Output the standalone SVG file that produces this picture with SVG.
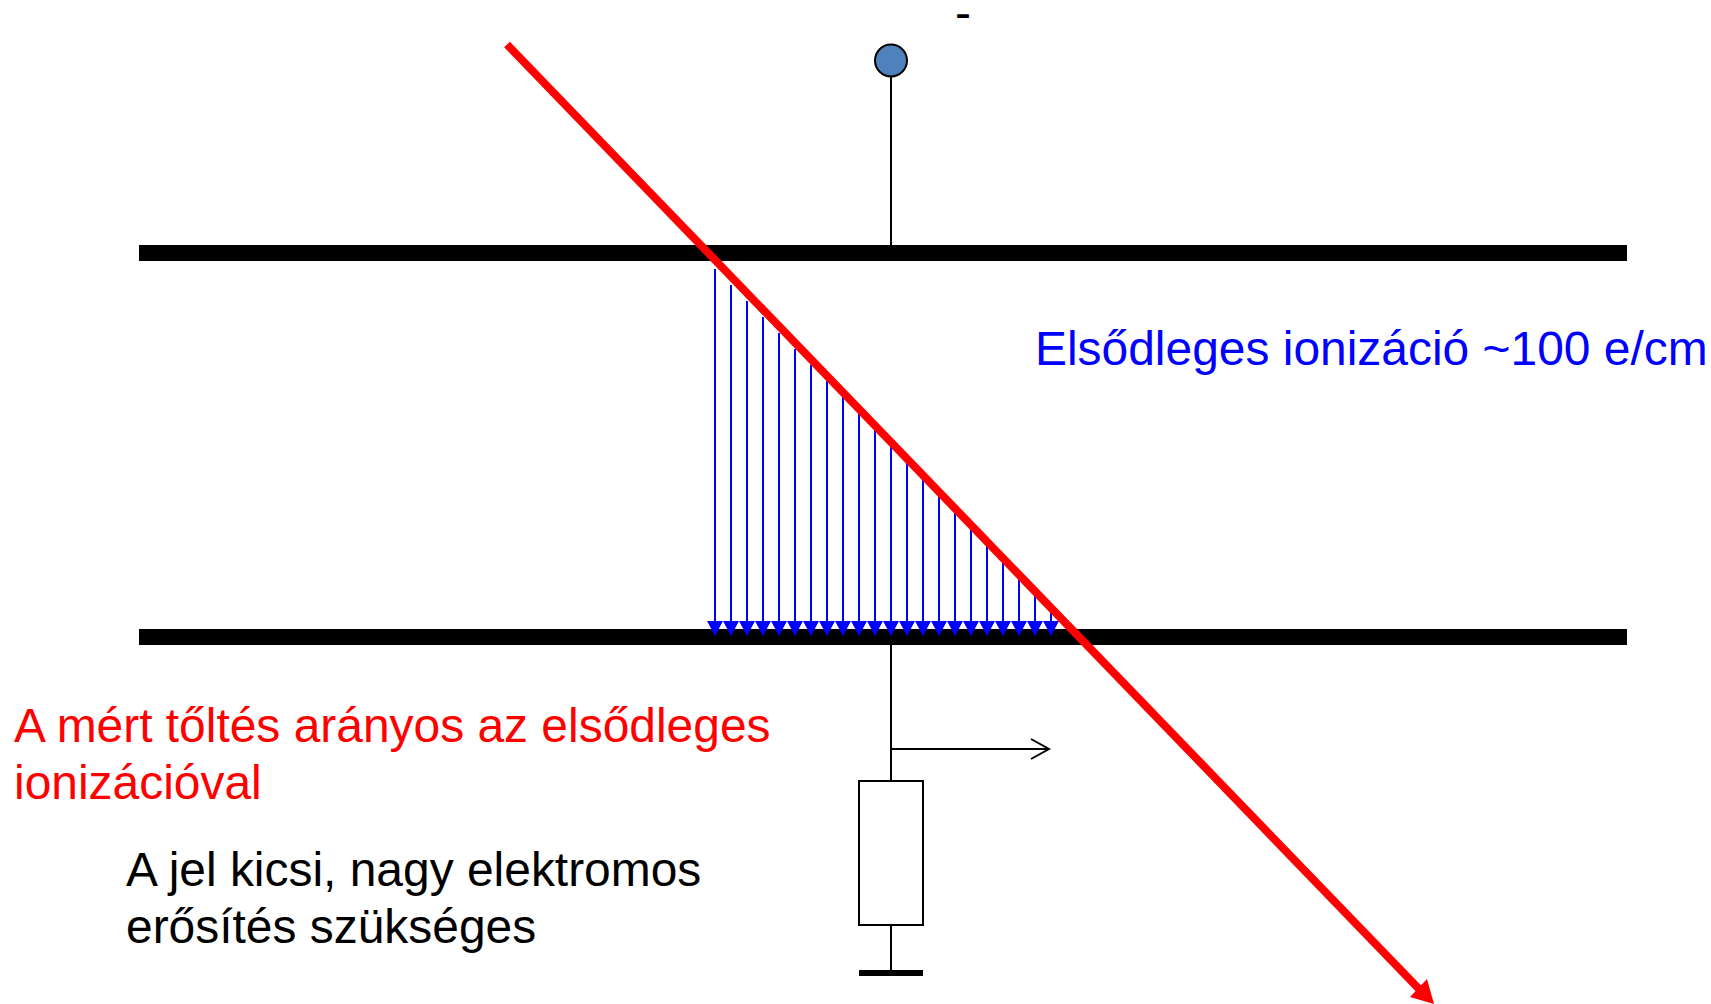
<svg xmlns="http://www.w3.org/2000/svg" width="1711" height="1004" viewBox="0 0 1711 1004">
<style>
text{font-family:"Liberation Sans",Arial,sans-serif;font-size:47.93px}
.w{stroke:#000;stroke-width:2;fill:none}
.b{stroke:#00f;stroke-width:2;fill:none}
</style>
<defs>
<path id="h" d="M0 0h16l-8 15z" fill="#00f"/>
</defs>
<rect width="1711" height="1004" fill="#fff"/>
<g id="plate-top"><rect x="139" y="245" width="1488" height="16"/></g>
<g id="plate-bottom"><rect x="139" y="629" width="1488" height="16"/></g>
<g id="terminal"><circle cx="891" cy="60.5" r="16" fill="#4f81bd" stroke="#000" stroke-width="2"/></g>
<g id="resistor"><rect x="859" y="781" width="64" height="144" fill="#fff" stroke="#000" stroke-width="2"/></g>
<g id="ground"><rect x="859" y="970" width="64" height="6"/></g>
<g id="connectors">
<path class="w" d="M891 77V245M891 645V781M891 925V970M891 749H1049M1031 739L1049 749L1031 759"/>
<g id="drift" class="b">
<path d="M715 269V622M731 285V622M747 301V622M763 317V622M779 333V622M795 349V622M811 365V622M827 381V622M843 397V622M859 413V622M875 429V622M891 445V622M907 461V622M923 477V622M939 493V622M955 509V622M971 525V622M987 541V622M1003 557V622M1019 573V622M1035 589V622M1051 605V622"/>
</g>
<g id="heads">
<use href="#h" x="707" y="621"/><use href="#h" x="723" y="621"/><use href="#h" x="739" y="621"/><use href="#h" x="755" y="621"/><use href="#h" x="771" y="621"/><use href="#h" x="787" y="621"/><use href="#h" x="803" y="621"/><use href="#h" x="819" y="621"/><use href="#h" x="835" y="621"/><use href="#h" x="851" y="621"/><use href="#h" x="867" y="621"/><use href="#h" x="883" y="621"/><use href="#h" x="899" y="621"/><use href="#h" x="915" y="621"/><use href="#h" x="931" y="621"/><use href="#h" x="947" y="621"/><use href="#h" x="963" y="621"/><use href="#h" x="979" y="621"/><use href="#h" x="995" y="621"/><use href="#h" x="1011" y="621"/><use href="#h" x="1027" y="621"/><use href="#h" x="1043" y="621"/>
</g>
<path d="M507 44.5L1420 990" stroke="#f00" stroke-width="8" fill="none"/>
<path d="M1434 1004L1410 997L1427 979Z" fill="#f00"/>
</g>
<text x="955" y="28.5">-</text>
<text x="1035" y="365" fill="#00f">Elsődleges ionizáció ~100 e/cm</text>
<text x="14" y="742" fill="#f00">A mért tőltés arányos az elsődleges</text>
<text x="14" y="799" fill="#f00">ionizációval</text>
<text x="126" y="886">A jel kicsi, nagy elektromos</text>
<text x="126" y="943">erősítés szükséges</text>
</svg>
